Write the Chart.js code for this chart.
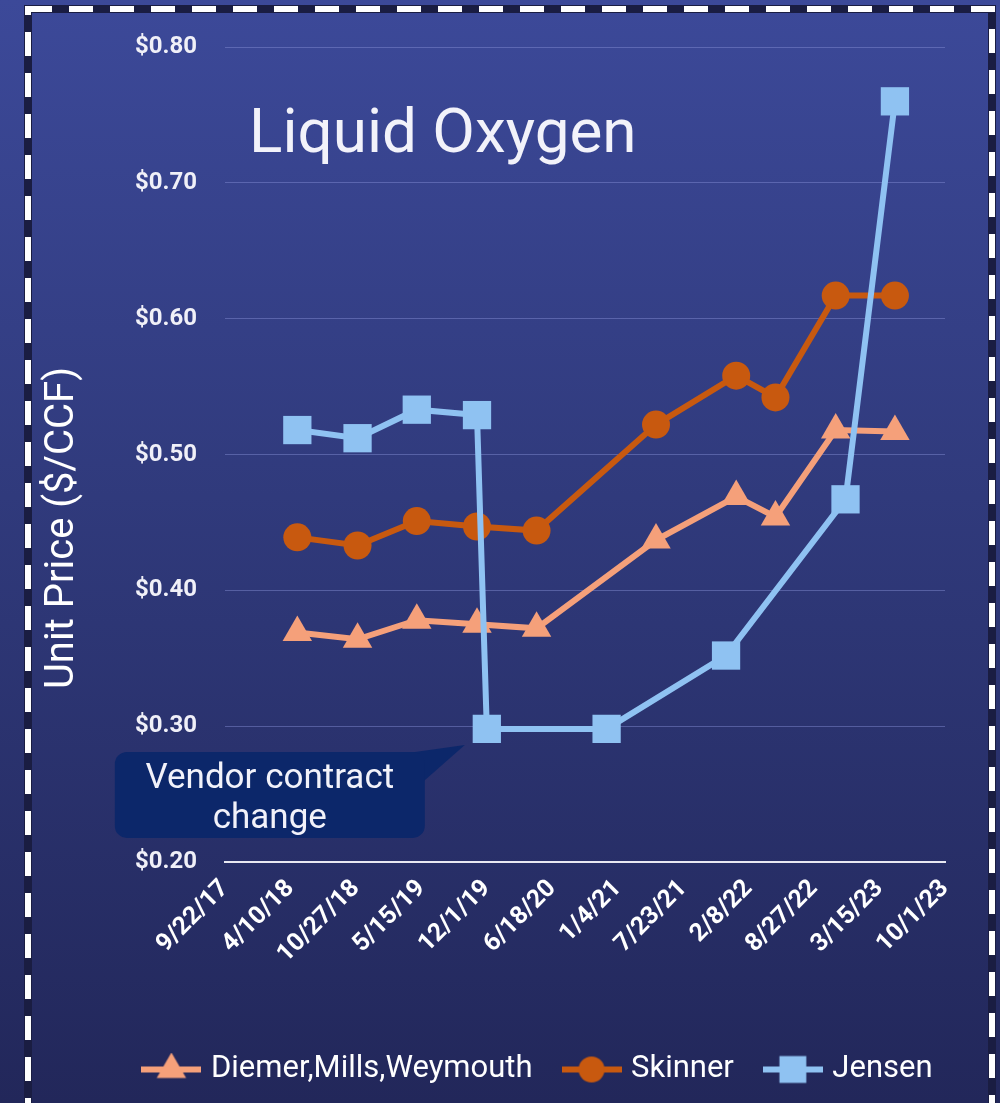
<!DOCTYPE html>
<html>
<head>
<meta charset="utf-8">
<title>Liquid Oxygen</title>
<script src="https://cdn.jsdelivr.net/npm/chart.js@4.4.1/dist/chart.umd.min.js"></script>
<style>
    html, body { margin: 0; padding: 0; background: #2c3470; }
    #wrap { width: 1000px; height: 1103px; }
</style>
</head>
<body>
<div id="wrap"><canvas id="oxygenChart" width="1000" height="1103"></canvas></div>
<script>
// Chart data
const axisStart = '2017-09-22';
const tickLabels = ['9/22/17', '4/10/18', '10/27/18', '5/15/19', '12/1/19', '6/18/20',
                    '1/4/21', '7/23/21', '2/8/22', '8/27/22', '3/15/23', '10/1/23'];
const plantDates = ['2018-05-01', '2018-11-01', '2019-05-01', '2019-11-01', '2020-05-01',
                    '2021-05-01', '2022-01-01', '2022-05-01', '2022-11-01', '2023-05-01'];
const jensenDates = ['2018-05-01', '2018-11-01', '2019-05-01', '2019-11-01', '2019-12-01',
                     '2020-12-01', '2021-12-01', '2022-12-01', '2023-05-01'];
const diemerPrices = [0.369, 0.364, 0.378, 0.375, 0.372, 0.437, 0.469, 0.454, 0.518, 0.517];
const skinnerPrices = [0.439, 0.433, 0.451, 0.447, 0.444, 0.522, 0.558, 0.542, 0.617, 0.617];
const jensenPrices = [0.518, 0.512, 0.533, 0.529, 0.298, 0.298, 0.352, 0.467, 0.760];
const seriesNames = ['Diemer,Mills,Weymouth', 'Skinner', 'Jensen'];
const calloutLines = ['Vendor contract', 'change'];

const dayOf = s => (Date.parse(s) - Date.parse(axisStart)) / 86400000;

document.addEventListener('DOMContentLoaded', function() {
    Chart.defaults.font.family = 'Roboto';

    const colors = { diemer: '#f5a07a', skinner: '#c8590f', jensen: '#8fc2f2' };

    // line + marker swatch for the legend
    function legendIcon(color, style, radius) {
        const c = document.createElement('canvas');
        c.width = 60; c.height = 34;
        const ctx = c.getContext('2d');
        ctx.strokeStyle = color;
        ctx.lineWidth = 6;
        ctx.beginPath();
        ctx.moveTo(0, 17); ctx.lineTo(60, 17);
        ctx.stroke();
        ctx.fillStyle = color;
        Chart.helpers.drawPoint(ctx, { pointStyle: style, radius: radius, rotation: 0, borderWidth: 0 }, 30, 17);
        return c;
    }
    const icons = [
        legendIcon(colors.diemer, 'triangle', 17),
        legendIcon(colors.skinner, 'circle', 13),
        legendIcon(colors.jensen, 'rect', 19)
    ];

    const backdrop = {
        id: 'backdrop',
        beforeDraw(chart) {
            const { ctx, width, height } = chart;
            ctx.save();
            const g = ctx.createLinearGradient(0, 0, 0, height);
            g.addColorStop(0, '#3c4999');
            g.addColorStop(0.45, '#303a7c');
            g.addColorStop(1, '#22275a');
            ctx.fillStyle = g;
            ctx.fillRect(0, 0, width, height);
            // dashed frame
            ctx.strokeStyle = '#1a1d42';
            ctx.lineWidth = 8;
            ctx.strokeRect(28, 9, 964, 1130);
            ctx.strokeStyle = '#ffffff';
            ctx.lineWidth = 6;
            ctx.setLineDash([24, 17]);
            ctx.strokeRect(28, 9, 964, 1130);
            ctx.restore();
        },
        afterDraw(chart) {
            const { ctx, scales } = chart;
            ctx.save();
            ctx.fillStyle = '#f2f2fa';
            ctx.font = 'normal 62px Roboto';
            ctx.textBaseline = 'alphabetic';
            ctx.fillText('Liquid Oxygen', 249, 152);

            // y axis title
            ctx.translate(63, 528);
            ctx.rotate(-Math.PI / 2);
            ctx.font = 'normal 40px Roboto';
            ctx.textAlign = 'center';
            ctx.textBaseline = 'middle';
            ctx.fillStyle = '#ffffff';
            ctx.fillText('Unit Price ($/CCF)', 0, 0);
            ctx.restore();

            // callout at the Jensen contract change
            const px = scales.x.getPixelForValue(dayOf(jensenDates[4]));
            const py = scales.y.getPixelForValue(jensenPrices[4]);
            const bw = 310, bh = 86;
            const bx = px - 372, by = py + 23;
            ctx.save();
            ctx.fillStyle = '#0c276a';
            ctx.beginPath();
            ctx.moveTo(bx + bw - 24, by + 2);
            ctx.lineTo(px - 22, py + 16);
            ctx.lineTo(bx + bw - 2, by + 30);
            ctx.closePath();
            ctx.fill();
            ctx.beginPath();
            ctx.roundRect(bx, by, bw, bh, 12);
            ctx.fill();
            ctx.fillStyle = '#f2f2fa';
            ctx.font = 'normal 35px Roboto';
            ctx.textAlign = 'center';
            ctx.textBaseline = 'alphabetic';
            ctx.fillText(calloutLines[0], bx + bw / 2, by + 36);
            ctx.fillText(calloutLines[1], bx + bw / 2, by + 76);
            ctx.restore();
        }
    };

    // Liquid Oxygen Chart (Line)
    const ctx = document.getElementById('oxygenChart').getContext('2d');
    const oxygenChart = new Chart(ctx, {
        type: 'line',
        data: {
            datasets: [{
                label: seriesNames[0],
                data: plantDates.map((d, i) => ({ x: dayOf(d), y: diemerPrices[i] })),
                borderColor: colors.diemer,
                backgroundColor: colors.diemer,
                borderWidth: 6,
                pointStyle: 'triangle',
                pointRadius: 17,
                pointBorderWidth: 0,
                order: 3
            }, {
                label: seriesNames[1],
                data: plantDates.map((d, i) => ({ x: dayOf(d), y: skinnerPrices[i] })),
                borderColor: colors.skinner,
                backgroundColor: colors.skinner,
                borderWidth: 6,
                pointStyle: 'circle',
                pointRadius: 14,
                pointBorderWidth: 0,
                order: 2
            }, {
                label: seriesNames[2],
                data: jensenDates.map((d, i) => ({ x: dayOf(d), y: jensenPrices[i] })),
                borderColor: colors.jensen,
                backgroundColor: colors.jensen,
                borderWidth: 6,
                pointStyle: 'rect',
                pointRadius: 20,
                pointBorderWidth: 0,
                order: 1
            }]
        },
        options: {
            responsive: false,
            animation: false,
            layout: {
                padding: { left: 80, right: 0, top: 47, bottom: 8 }
            },
            scales: {
                x: {
                    type: 'linear',
                    min: 0,
                    max: 2200,
                    afterFit: scale => { scale.height = 157; },
                    grid: { display: false },
                    border: { display: true, color: '#e8e8f2', width: 2 },
                    ticks: {
                        stepSize: 200,
                        autoSkip: false,
                        minRotation: 45,
                        maxRotation: 45,
                        padding: 4,
                        color: '#ffffff',
                        font: { size: 25, weight: 'bold' },
                        callback: (value, index) => tickLabels[index]
                    }
                },
                y: {
                    min: 0.2,
                    max: 0.8,
                    afterFit: scale => { scale.width = 145; },
                    grid: { color: 'rgba(135,145,215,0.45)', lineWidth: 1, drawTicks: false },
                    border: { display: false },
                    ticks: {
                        stepSize: 0.1,
                        padding: 28,
                        color: '#f0f0f8',
                        font: { size: 24, weight: 'bold' },
                        callback: value => '$' + value.toFixed(2)
                    }
                },
                // empty right gutter
                gutter: {
                    type: 'linear',
                    position: 'right',
                    afterFit: scale => { scale.width = 55; },
                    grid: { display: false },
                    border: { display: false },
                    ticks: { display: false }
                }
            },
            plugins: {
                tooltip: { enabled: false },
                legend: {
                    position: 'bottom',
                    labels: {
                        color: '#ffffff',
                        font: { size: 31 },
                        usePointStyle: true,
                        pointStyleWidth: 48,
                        padding: 35,
                        sort: (a, b) => a.datasetIndex - b.datasetIndex,
                        generateLabels: function(chart) {
                            return Chart.defaults.plugins.legend.labels.generateLabels(chart).map(item => {
                                item.pointStyle = icons[item.datasetIndex];
                                return item;
                            });
                        }
                    }
                }
            }
        },
        plugins: [backdrop]
    });
});
</script>
</body>
</html>
